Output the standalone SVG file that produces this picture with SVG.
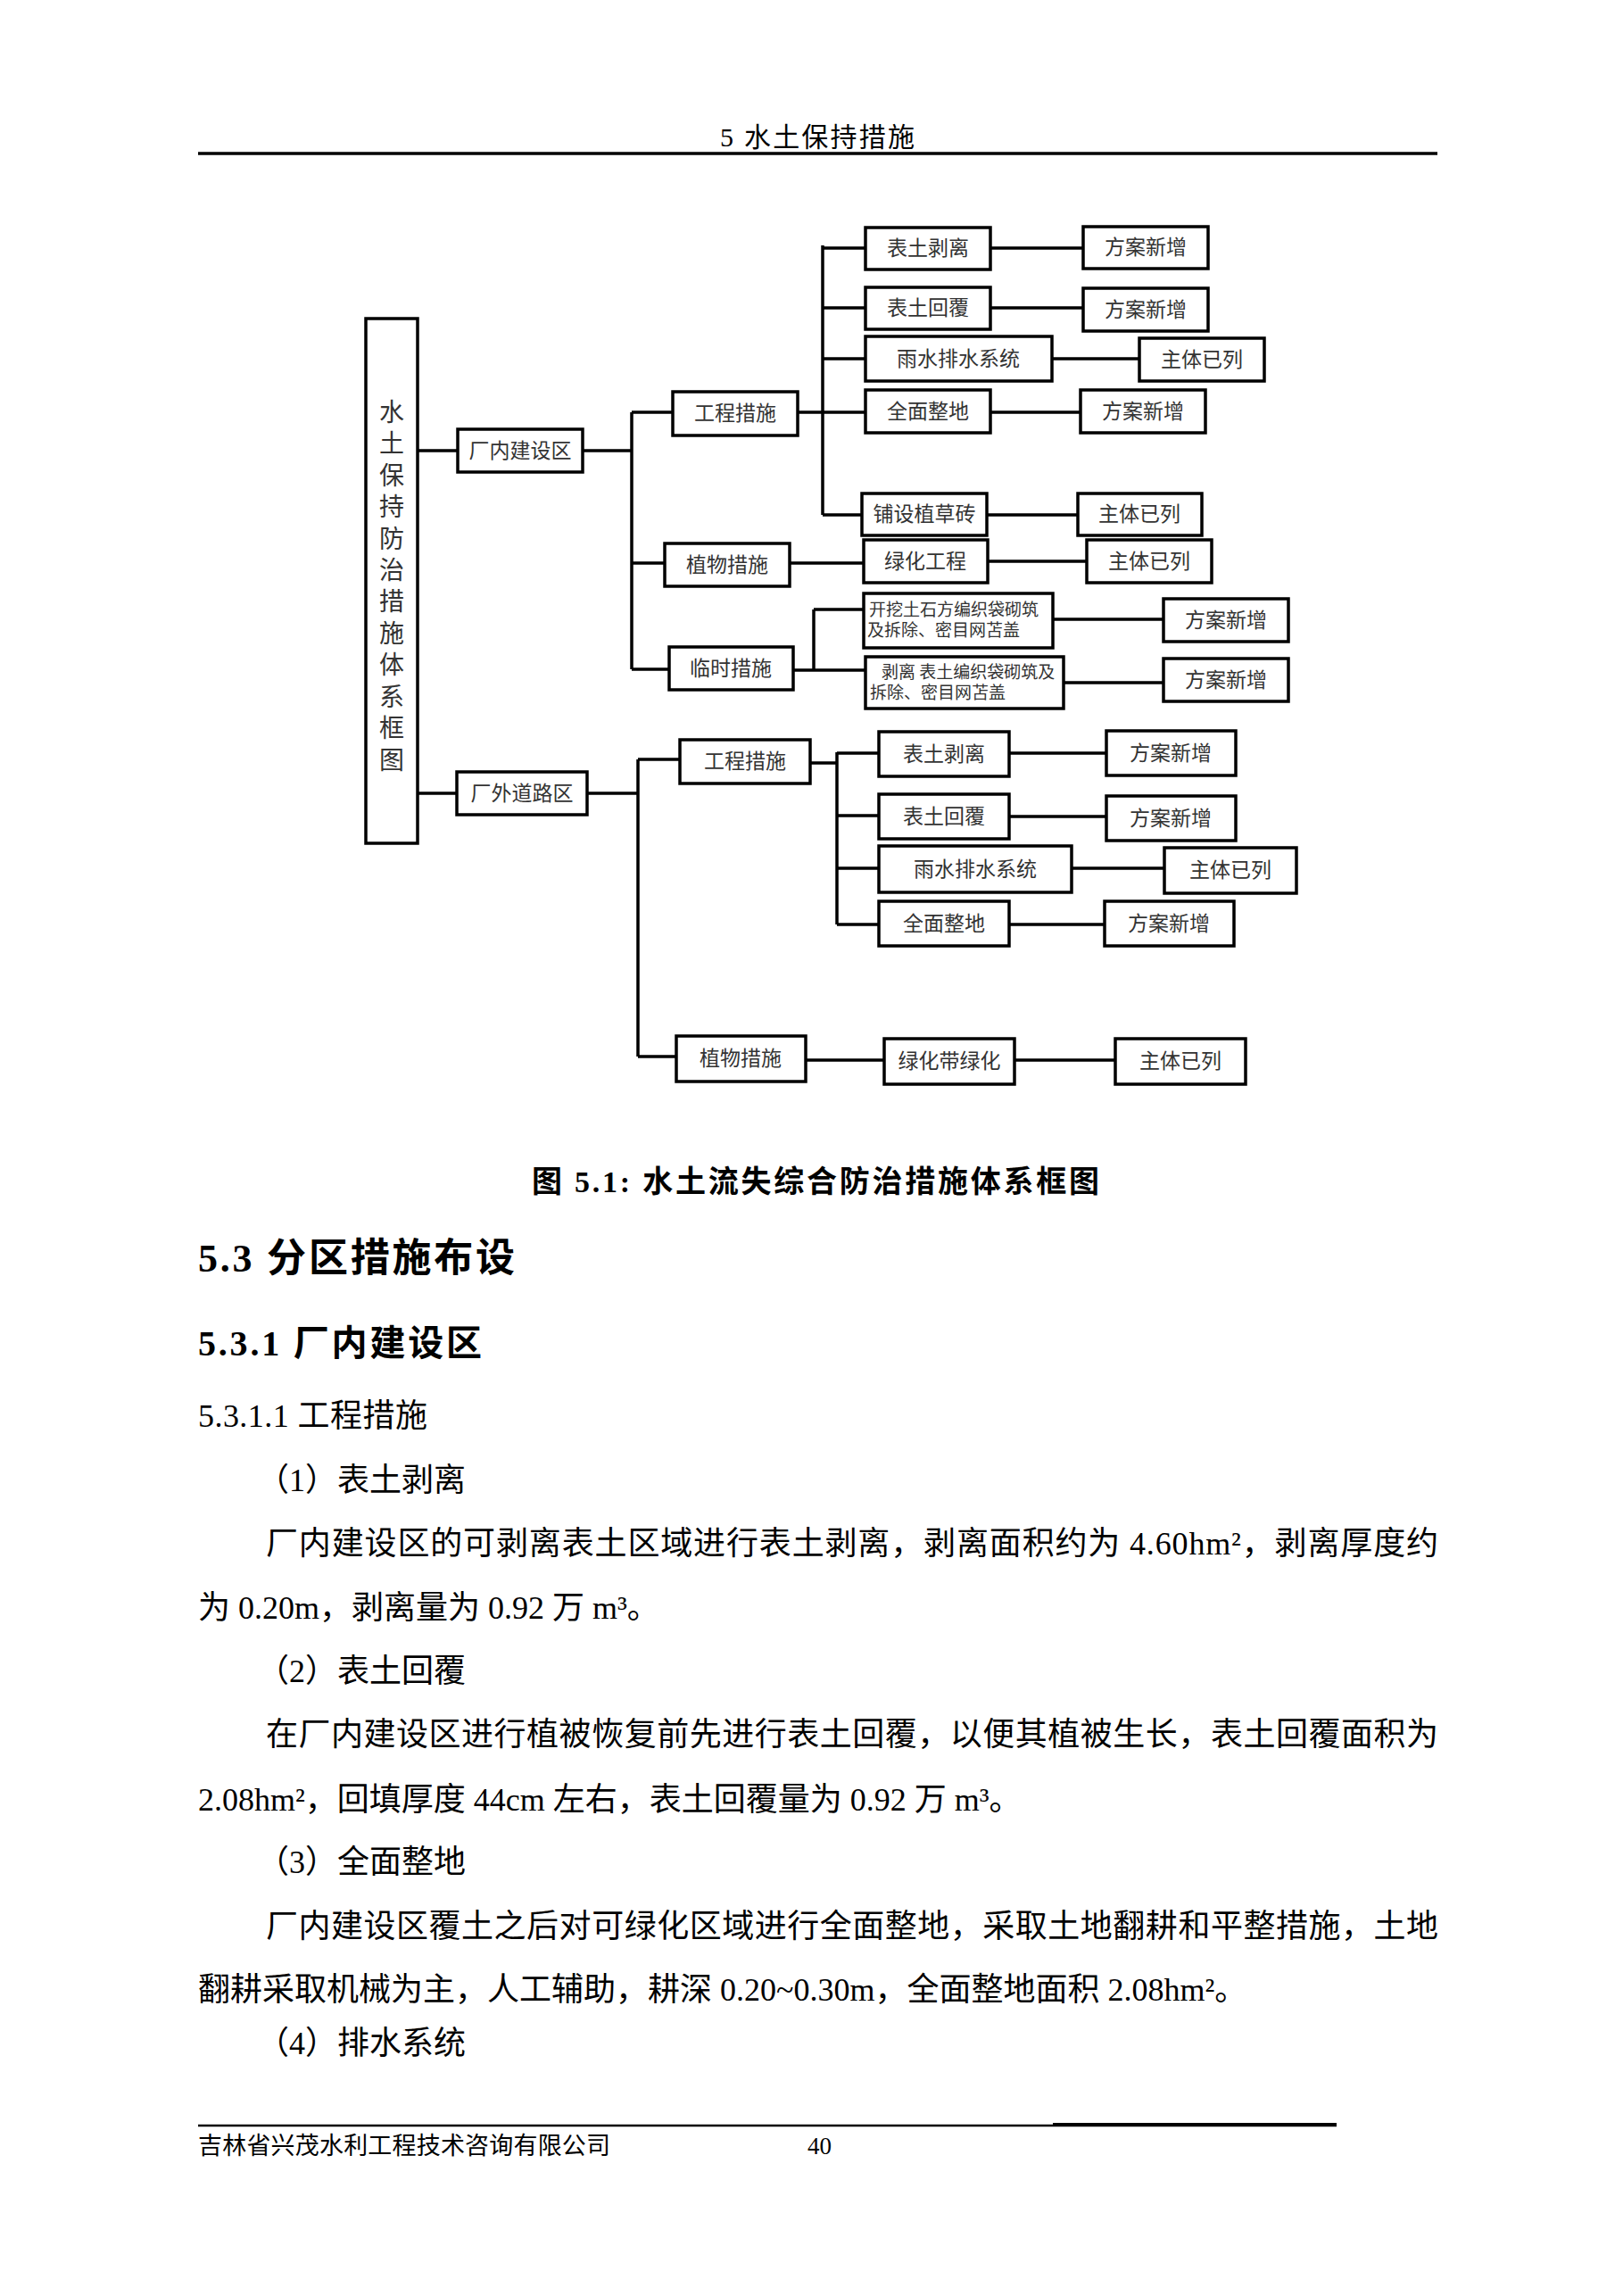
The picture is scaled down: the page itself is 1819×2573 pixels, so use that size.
<svg xmlns="http://www.w3.org/2000/svg" width="1819" height="2573" viewBox="0 0 1819 2573">
<style>
.box{fill:#fff;stroke:#000;stroke-width:3.5}
.ln{stroke:#000;stroke-width:3.5;fill:none}
.lbl{font-family:"Noto Sans CJK SC",sans-serif;font-size:23px;fill:#333;text-anchor:middle}
.sm{font-family:"Noto Sans CJK SC",sans-serif;font-size:19px;fill:#333}
.vt{font-family:"Noto Sans CJK SC",sans-serif;font-size:28px;fill:#333;text-anchor:middle}
.body{font-family:"Liberation Serif","Noto Sans CJK SC",serif;font-size:36px;fill:#000}
.bold{font-family:"Liberation Serif","Noto Sans CJK SC",serif;font-weight:bold;fill:#000}
</style>
<rect width="1819" height="2573" fill="#fff"/>
<!-- header -->
<text class="body" x="916" y="164" style="font-size:30px" text-anchor="middle" textLength="218">5 水土保持措施</text>
<line x1="222" y1="172" x2="1611" y2="172" stroke="#000" stroke-width="3.5"/>

<g id="connectors">
<path class="ln" d="M468 505H513 M653 505H708 M708 462V750 M708 462H754 M708 631H745 M708 750H750"/>
<path class="ln" d="M894 462H922 M922 275V577 M922 278H970 M922 345H970 M922 402H970 M922 462H970 M922 577H966"/>
<path class="ln" d="M1110 278H1214 M1110 345H1214 M1179 402H1277 M1110 462H1211 M1106 577H1208"/>
<path class="ln" d="M885 631H968 M1107 629H1218"/>
<path class="ln" d="M889 751H970 M912 683V751 M912 683H968 M1180 694H1304 M1192 765H1304"/>
<path class="ln" d="M468 889H512 M658 889H715 M715 851V1184 M715 851H762 M715 1184H758"/>
<path class="ln" d="M908 855H938 M938 843V1036 M938 844H985 M938 914H985 M938 973H985 M938 1036H985"/>
<path class="ln" d="M1131 844H1240 M1131 915H1240 M1201 973H1305 M1131 1036H1238"/>
<path class="ln" d="M903 1188H991 M1137 1188H1250"/>
</g>

<g id="root">
<rect class="box" x="410" y="357" width="58" height="588"/>
<text class="vt" x="439" y="472">水</text>
<text class="vt" x="439" y="507">土</text>
<text class="vt" x="439" y="543">保</text>
<text class="vt" x="439" y="578">持</text>
<text class="vt" x="439" y="614">防</text>
<text class="vt" x="439" y="649">治</text>
<text class="vt" x="439" y="684">措</text>
<text class="vt" x="439" y="720">施</text>
<text class="vt" x="439" y="755">体</text>
<text class="vt" x="439" y="791">系</text>
<text class="vt" x="439" y="826">框</text>
<text class="vt" x="439" y="862">图</text>
</g>

<g id="zone1"><rect class="box" x="513" y="481" width="140" height="48"/><text class="lbl" x="583" y="513">厂内建设区</text></g>
<g id="z1-eng"><rect class="box" x="754" y="439" width="140" height="49"/><text class="lbl" x="824" y="471">工程措施</text></g>
<g id="z1-veg"><rect class="box" x="745" y="609" width="140" height="48"/><text class="lbl" x="815" y="641">植物措施</text></g>
<g id="z1-tmp"><rect class="box" x="750" y="725" width="139" height="48"/><text class="lbl" x="819" y="757">临时措施</text></g>

<g id="z1-e1"><rect class="box" x="970" y="255" width="140" height="47"/><text class="lbl" x="1040" y="286">表土剥离</text></g>
<g id="z1-e1s"><rect class="box" x="1214" y="254" width="140" height="47"/><text class="lbl" x="1284" y="285">方案新增</text></g>
<g id="z1-e2"><rect class="box" x="970" y="322" width="140" height="47"/><text class="lbl" x="1040" y="353">表土回覆</text></g>
<g id="z1-e2s"><rect class="box" x="1214" y="323" width="140" height="48"/><text class="lbl" x="1284" y="355">方案新增</text></g>
<g id="z1-e3"><rect class="box" x="970" y="377" width="209" height="50"/><text class="lbl" x="1074" y="410">雨水排水系统</text></g>
<g id="z1-e3s"><rect class="box" x="1277" y="379" width="140" height="48"/><text class="lbl" x="1347" y="411">主体已列</text></g>
<g id="z1-e4"><rect class="box" x="970" y="437" width="140" height="48"/><text class="lbl" x="1040" y="469">全面整地</text></g>
<g id="z1-e4s"><rect class="box" x="1211" y="437" width="140" height="48"/><text class="lbl" x="1281" y="469">方案新增</text></g>
<g id="z1-e5"><rect class="box" x="966" y="553" width="140" height="47"/><text class="lbl" x="1036" y="584">铺设植草砖</text></g>
<g id="z1-e5s"><rect class="box" x="1208" y="553" width="139" height="47"/><text class="lbl" x="1277" y="584">主体已列</text></g>

<g id="z1-v1"><rect class="box" x="968" y="605" width="139" height="48"/><text class="lbl" x="1037" y="637">绿化工程</text></g>
<g id="z1-v1s"><rect class="box" x="1218" y="605" width="140" height="48"/><text class="lbl" x="1288" y="637">主体已列</text></g>

<g id="z1-t1"><rect class="box" x="968" y="665" width="212" height="61"/><text class="sm" x="974" y="690">开挖土石方编织袋砌筑</text><text class="sm" x="972" y="713">及拆除、密目网苫盖</text></g>
<g id="z1-t1s"><rect class="box" x="1304" y="671" width="140" height="48"/><text class="lbl" x="1374" y="703">方案新增</text></g>
<g id="z1-t2"><rect class="box" x="970" y="736" width="222" height="58"/><text class="sm" x="988" y="760">剥离 表土编织袋砌筑及</text><text class="sm" x="975" y="783">拆除、密目网苫盖</text></g>
<g id="z1-t2s"><rect class="box" x="1304" y="738" width="140" height="48"/><text class="lbl" x="1374" y="770">方案新增</text></g>

<g id="zone2"><rect class="box" x="512" y="865" width="146" height="48"/><text class="lbl" x="585" y="897">厂外道路区</text></g>
<g id="z2-eng"><rect class="box" x="762" y="829" width="146" height="49"/><text class="lbl" x="835" y="861">工程措施</text></g>
<g id="z2-veg"><rect class="box" x="758" y="1161" width="145" height="51"/><text class="lbl" x="830" y="1194">植物措施</text></g>

<g id="z2-e1"><rect class="box" x="985" y="820" width="146" height="50"/><text class="lbl" x="1058" y="853">表土剥离</text></g>
<g id="z2-e1s"><rect class="box" x="1240" y="819" width="145" height="50"/><text class="lbl" x="1312" y="852">方案新增</text></g>
<g id="z2-e2"><rect class="box" x="985" y="890" width="146" height="50"/><text class="lbl" x="1058" y="923">表土回覆</text></g>
<g id="z2-e2s"><rect class="box" x="1240" y="892" width="145" height="50"/><text class="lbl" x="1312" y="925">方案新增</text></g>
<g id="z2-e3"><rect class="box" x="985" y="948" width="216" height="52"/><text class="lbl" x="1093" y="982">雨水排水系统</text></g>
<g id="z2-e3s"><rect class="box" x="1305" y="950" width="148" height="51"/><text class="lbl" x="1379" y="983">主体已列</text></g>
<g id="z2-e4"><rect class="box" x="985" y="1010" width="146" height="50"/><text class="lbl" x="1058" y="1043">全面整地</text></g>
<g id="z2-e4s"><rect class="box" x="1238" y="1010" width="145" height="50"/><text class="lbl" x="1310" y="1043">方案新增</text></g>
<g id="z2-v1"><rect class="box" x="991" y="1164" width="146" height="51"/><text class="lbl" x="1064" y="1197">绿化带绿化</text></g>
<g id="z2-v1s"><rect class="box" x="1250" y="1164" width="146" height="51"/><text class="lbl" x="1323" y="1197">主体已列</text></g>

<!-- caption and body text -->
<text class="bold" x="596" y="1336" font-size="34" textLength="636">图 5.1:  水土流失综合防治措施体系框图</text>
<text class="bold" x="222" y="1425" font-size="44" textLength="355">5.3  分区措施布设</text>
<text class="bold" x="222" y="1519" font-size="40" textLength="318">5.3.1  厂内建设区</text>
<text class="body" x="222" y="1599" textLength="257">5.3.1.1 工程措施</text>
<text class="body" x="288" y="1671">（1）表土剥离</text>
<text class="body" x="298" y="1742" textLength="1314">厂内建设区的可剥离表土区域进行表土剥离，剥离面积约为 4.60hm²，剥离厚度约</text>
<text class="body" x="222" y="1814">为 0.20m，剥离量为 0.92 万 m³。</text>
<text class="body" x="288" y="1885">（2）表土回覆</text>
<text class="body" x="298" y="1956" textLength="1314">在厂内建设区进行植被恢复前先进行表土回覆，以便其植被生长，表土回覆面积为</text>
<text class="body" x="222" y="2029">2.08hm²，回填厚度 44cm 左右，表土回覆量为 0.92 万 m³。</text>
<text class="body" x="288" y="2099">（3）全面整地</text>
<text class="body" x="298" y="2171" textLength="1314">厂内建设区覆土之后对可绿化区域进行全面整地，采取土地翻耕和平整措施，土地</text>
<text class="body" x="222" y="2242">翻耕采取机械为主，人工辅助，耕深 0.20~0.30m，全面整地面积 2.08hm²。</text>
<text class="body" x="288" y="2302">（4）排水系统</text>

<!-- footer -->
<line x1="222" y1="2382" x2="1498" y2="2382" stroke="#000" stroke-width="2.5"/>
<line x1="1180" y1="2381" x2="1498" y2="2381" stroke="#000" stroke-width="4"/>
<text class="body" x="222" y="2414" style="font-size:27px" textLength="462">吉林省兴茂水利工程技术咨询有限公司</text>
<text class="body" x="905" y="2414" style="font-size:27px">40</text>
</svg>
